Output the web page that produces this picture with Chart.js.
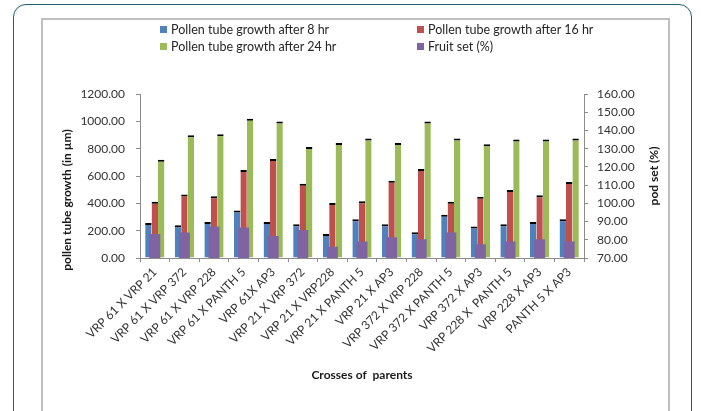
<!DOCTYPE html>
<html>
<head>
<meta charset="utf-8">
<script src="https://cdn.jsdelivr.net/npm/chart.js@4.4.1/dist/chart.umd.min.js"></script>
<style>
  html, body { margin: 0; padding: 0; background: #ffffff; width: 701px; height: 411px; overflow: hidden; }
  #card { position: absolute; left: 13px; top: 4px; width: 679px; height: 460px; border: 1.5px solid #1e5f73; border-radius: 13px; box-sizing: border-box; }
  #frame { position: absolute; left: 41px; top: 18px; width: 629px; height: 460px; border: 2px solid #bfbfbf; box-sizing: border-box; }
  #c { position: absolute; left: 0; top: 0; }
  .lg { position: absolute; font-family: Lato, "Noto Sans", sans-serif; font-size: 12.5px; color: #262626; white-space: nowrap; line-height: 14px; }
  .lg span.box { display: inline-block; width: 7px; height: 7px; margin-right: 4px; vertical-align: 1px; }
</style>
</head>
<body>
<div id="card"></div>
<div id="frame"></div>
<canvas id="c" width="701" height="411"></canvas>
<div id="legend"></div>
<script>
const categories = [
  "VRP 61 X VRP 21", "VRP 61 X VRP 372", "VRP 61 X VRP 228", "VRP 61 X PANTH 5",
  "VRP 61X AP3", "VRP 21 X VRP 372", "VRP 21 X VRP228", "VRP 21 X PANTH 5",
  "VRP 21 X AP3", "VRP 372 X VRP 228", "VRP 372 X PANTH 5", "VRP 372 X AP3",
  "VRP 228 X  PANTH 5", "VRP 228 X AP3", "PANTH 5 X AP3"
];
const growth8hr  = [257, 240, 264, 348, 264, 247, 176, 284, 247, 189, 316, 230, 247, 264, 284];
const growth16hr = [411, 465, 451, 644, 725, 544, 402, 416, 566, 651, 411, 448, 497, 460, 556];
const growth24hr = [718, 898, 906, 1018, 999, 813, 842, 874, 842, 999, 874, 832, 867, 867, 874];
const fruitSet   = [83.2, 84.0, 87.3, 86.7, 82.1, 85.4, 76.2, 79.0, 81.4, 80.3, 84.0, 77.5, 79.0, 80.3, 79.0];

const seriesNames = ["Pollen tube growth after 8 hr", "Pollen tube growth after 16 hr", "Pollen tube growth after 24 hr", "Fruit set (%)"];
const colors = ["#4f81bd", "#c0504d", "#9bbb59", "#8064a2"];
const leftTicks = [0, 200, 400, 600, 800, 1000, 1200];
const rightTicks = [70, 80, 90, 100, 110, 120, 130, 140, 150, 160];
const leftTitle = "pollen tube growth (in µm)";
const rightTitle = "pod set (%)";
const xTitle = "Crosses of  parents";

// HTML legend (2 x 2 layout)
const legendPos = [[160, 23], [417, 23], [160, 40], [417, 40]];
const legendEl = document.getElementById('legend');
seriesNames.forEach((n, i) => {
  const d = document.createElement('div');
  d.className = 'lg';
  d.style.left = legendPos[i][0] + 'px';
  d.style.top = legendPos[i][1] + 'px';
  d.innerHTML = '<span class="box" style="background:' + colors[i] + '"></span>';
  d.appendChild(document.createTextNode(n));
  legendEl.appendChild(d);
});

const FONT = 'Lato, "Noto Sans", sans-serif';
const tickColor = '#333333';
const axisColor = '#8c8c8c';

const titlesPlugin = {
  id: 'titles',
  afterDraw(chart) {
    const ctx = chart.ctx;
    const ca = chart.chartArea;
    const mid = (ca.top + ca.bottom) / 2;
    ctx.save();
    ctx.fillStyle = '#1a1a1a';
    ctx.font = 'bold 12px ' + FONT;
    ctx.textAlign = 'center';
    ctx.textBaseline = 'middle';
    // left
    ctx.save();
    ctx.translate(chart.scales.y.left + 25, mid + 24);
    ctx.rotate(-Math.PI / 2);
    ctx.fillText(leftTitle, 0, 0);
    ctx.restore();
    // right
    ctx.save();
    ctx.translate(chart.scales.y1.right - 14, mid);
    ctx.rotate(-Math.PI / 2);
    ctx.fillText(rightTitle, 0, 0);
    ctx.restore();
    // x
    ctx.fillText(xTitle, (ca.left + ca.right) / 2, chart.scales.x.bottom - 36);
    ctx.restore();
  }
};

const capBorder = { top: 2, left: 0, right: 0, bottom: 0 };
new Chart(document.getElementById('c'), {
  type: 'bar',
  data: {
    labels: categories,
    datasets: [
      { label: seriesNames[0], data: growth8hr, backgroundColor: colors[0], borderColor: '#000', borderWidth: capBorder, borderSkipped: false, yAxisID: 'y', order: 1, categoryPercentage: 0.65, barPercentage: 1.0 },
      { label: seriesNames[1], data: growth16hr, backgroundColor: colors[1], borderColor: '#000', borderWidth: capBorder, borderSkipped: false, yAxisID: 'y', order: 1, categoryPercentage: 0.65, barPercentage: 1.0 },
      { label: seriesNames[2], data: growth24hr, backgroundColor: colors[2], borderColor: '#000', borderWidth: capBorder, borderSkipped: false, yAxisID: 'y', order: 1, categoryPercentage: 0.65, barPercentage: 1.0 },
      { label: seriesNames[3], data: fruitSet, backgroundColor: colors[3], borderWidth: 0, yAxisID: 'y1', order: 0, grouped: false, categoryPercentage: 1.0, barPercentage: 0.37 }
    ]
  },
  options: {
    responsive: false,
    animation: false,
    devicePixelRatio: 1,
    layout: { padding: { left: 42, right: 33, top: 94, bottom: 0 } },
    plugins: { legend: { display: false }, tooltip: { enabled: false } },
    scales: {
      x: {
        afterFit(s) { s.height = 153; },
        grid: { display: true, offset: true, drawOnChartArea: false, drawTicks: true, tickLength: 4, color: axisColor },
        border: { color: axisColor, width: 1 },
        ticks: { minRotation: 45, maxRotation: 45, autoSkip: false, padding: 3, color: tickColor, font: { family: FONT, size: 12 } }
      },
      y: {
        position: 'left',
        min: 0, max: 1200,
        afterFit(s) { s.width = 98; },
        afterBuildTicks(s) { s.ticks = leftTicks.map(v => ({ value: v })); },
        grid: { drawOnChartArea: false, drawTicks: true, tickLength: 4, color: axisColor },
        border: { color: axisColor, width: 1 },
        ticks: { padding: 11, color: tickColor, font: { family: FONT, size: 12 }, callback: v => Number(v).toFixed(2) }
      },
      y1: {
        position: 'right',
        min: 70, max: 160,
        afterFit(s) { s.width = 84; },
        afterBuildTicks(s) { s.ticks = rightTicks.map(v => ({ value: v })); },
        grid: { drawOnChartArea: false, drawTicks: true, tickLength: 4, color: axisColor },
        border: { color: axisColor, width: 1 },
        ticks: { padding: 9, color: tickColor, font: { family: FONT, size: 12 }, callback: v => Number(v).toFixed(2) }
      }
    }
  },
  plugins: [titlesPlugin]
});
</script>
</body>
</html>
